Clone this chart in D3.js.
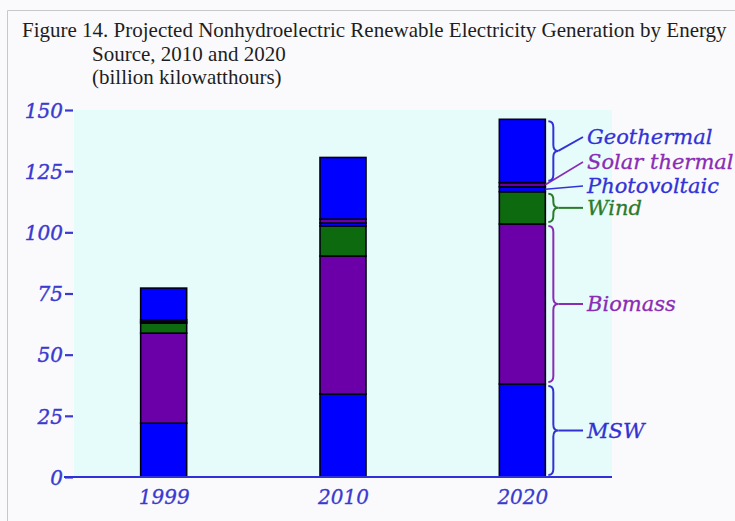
<!DOCTYPE html>
<html><head><meta charset="utf-8">
<script src="https://cdn.jsdelivr.net/npm/d3@7"></script>
<style>html,body{margin:0;padding:0;background:#fafafc;}svg{display:block;}</style>
</head><body>
<script>
// ---- data (billion kWh) ----
const years = ["1999", "2010", "2020"];
const seriesNames = ["MSW", "Biomass", "Wind", "Photovoltaic", "Solar thermal", "Geothermal"];
const msw          = [22.0, 33.9, 38.0];
const biomass      = [36.8, 56.4, 65.4];
const wind         = [4.1, 12.3, 13.2];
const photovoltaic = [0.5, 1.2, 2.0];
const solarThermal = [0.8, 1.6, 1.7];
const geothermal   = [13.0, 25.2, 25.9];
const yTicks = [0, 25, 50, 75, 100, 125, 150];

const seriesValues = [msw, biomass, wind, photovoltaic, solarThermal, geothermal];
const fills = ["#0000fe", "#6c00a8", "#0e6a0e", "#0000fe", "#6c00a8", "#0000fe"];
const labelColors = ["#3232d2", "#8a2cb4", "#2c7a2c", "#3232d8", "#8a2cb4", "#3232d8"];

const W = 735, H = 521;
const svg = d3.select("body").append("svg").attr("width", W).attr("height", H);

// frame
svg.append("path").attr("d", "M7.5,521 V10.5 H735").attr("fill", "none").attr("stroke", "#c8c8cc").attr("stroke-width", 1);

// title
const title = svg.append("g").attr("font-family", "'Liberation Serif', serif").attr("font-size", 21).attr("fill", "#1e1e1e");
const t1 = title.append("text").attr("x", 22).attr("y", 37).text("Figure 14. Projected Nonhydroelectric Renewable Electricity Generation by Energy");
// keep the first line inside the window
const maxLen = W - 22 - 3;
if (t1.node().getComputedTextLength() > maxLen) t1.attr("textLength", maxLen).attr("lengthAdjust", "spacingAndGlyphs");
title.append("text").attr("x", 92).attr("y", 61).text("Source, 2010 and 2020");
title.append("text").attr("x", 92).attr("y", 84).text("(billion kilowatthours)");

const plotL = 74, plotR = 612, plotT = 110, plotB = 477;
const x = d3.scalePoint().domain(years).range([plotL, plotR]).padding(0.5);
const y = d3.scaleLinear().domain([0, 150]).range([plotB, plotT]);
const barW = 46;

svg.append("rect").attr("x", plotL).attr("y", plotT).attr("width", plotR - plotL).attr("height", plotB - plotT).attr("fill", "#e6fcfa");

// stack
const table = years.map((yr, i) => {
  const o = { year: yr };
  seriesNames.forEach((s, j) => o[s] = seriesValues[j][i]);
  return o;
});
const stacked = d3.stack().keys(seriesNames)(table);

const layers = svg.append("g").selectAll("g").data(stacked).join("g")
  .attr("fill", (d, i) => fills[i]);
layers.selectAll("rect").data(d => d).join("rect")
  .attr("x", d => x(d.data.year) - barW / 2)
  .attr("width", barW)
  .attr("y", d => y(d[1]))
  .attr("height", d => y(d[0]) - y(d[1]))
  .attr("stroke", "#000010").attr("stroke-width", 1.6);

const axisFont = "'DejaVu Serif', serif";
// y axis
const yAxis = d3.axisLeft(y).tickValues(yTicks).tickSize(8).tickPadding(2);
const gy = svg.append("g").attr("transform", `translate(${plotL - 1},0)`).call(yAxis);
gy.select(".domain").remove();
gy.selectAll(".tick line").attr("stroke", "#3a3ad0").attr("stroke-width", 2.2);
gy.selectAll(".tick text").attr("fill", "#3a3ad0").attr("font-family", axisFont)
  .attr("font-style", "italic").attr("font-size", 20).attr("dy", "0.36em")
  .attr("stroke", "#3a3ad0").attr("stroke-width", 0.4);

// x axis
const xAxis = d3.axisBottom(x).tickSize(0).tickPadding(13);
const gx = svg.append("g").attr("transform", `translate(0,${plotB})`).call(xAxis);
gx.select(".domain").attr("d", `M${plotL - 10},0H${plotR}`).attr("stroke", "#3030d8").attr("stroke-width", 2.2);
gx.selectAll(".tick text").attr("fill", "#3a3ad0").attr("font-family", axisFont)
  .attr("font-style", "italic").attr("font-size", 20).attr("dy", "0.71em")
  .attr("stroke", "#3a3ad0").attr("stroke-width", 0.3);

// annotations for 2020 bar
const last = years.length - 1;
const bx = x(years[last]) + barW / 2;
function brace(x0, y1, y2, w) {
  const m = (y1 + y2) / 2, h = w / 2, q = Math.min(6, (y2 - y1) / 4);
  return `M${x0},${y1} Q${x0 + h},${y1} ${x0 + h},${y1 + q} L${x0 + h},${m - q} Q${x0 + h},${m} ${x0 + w},${m}` +
         ` Q${x0 + h},${m} ${x0 + h},${m + q} L${x0 + h},${y2 - q} Q${x0 + h},${y2} ${x0},${y2}`;
}
const textX = 587, lineEnd = 583;
const labelY = { "Photovoltaic": 193, "Solar thermal": 169, "Geothermal": 144 };
const ann = svg.append("g").attr("fill", "none").attr("stroke-width", 2);
stacked.forEach((layer, j) => {
  const d = layer[last];
  const y1 = y(d[1]), y2 = y(d[0]), mid = (y1 + y2) / 2;
  const name = seriesNames[j];
  const col = labelColors[j];
  let ty;
  if (name === "Photovoltaic" || name === "Solar thermal") {
    ty = labelY[name];
    ann.append("path").attr("d", `M${bx},${mid} L${lineEnd},${ty - 7}`).attr("stroke", col).attr("stroke-width", 1.6);
  } else {
    const gap = 2;
    ann.append("path").attr("d", brace(bx + 3, y1 + gap, y2 - gap, 10)).attr("stroke", col);
    ty = labelY[name] != null ? labelY[name] : mid + 7;
    ann.append("path").attr("d", `M${bx + 13},${mid} L${lineEnd},${ty - 7}`).attr("stroke", col);
  }
  svg.append("text").attr("x", textX).attr("y", ty).attr("fill", col)
    .attr("font-family", axisFont).attr("font-style", "italic").attr("font-size", 21)
    .attr("stroke", col).attr("stroke-width", 0.3)
    .text(name);
});
</script>
</body></html>
